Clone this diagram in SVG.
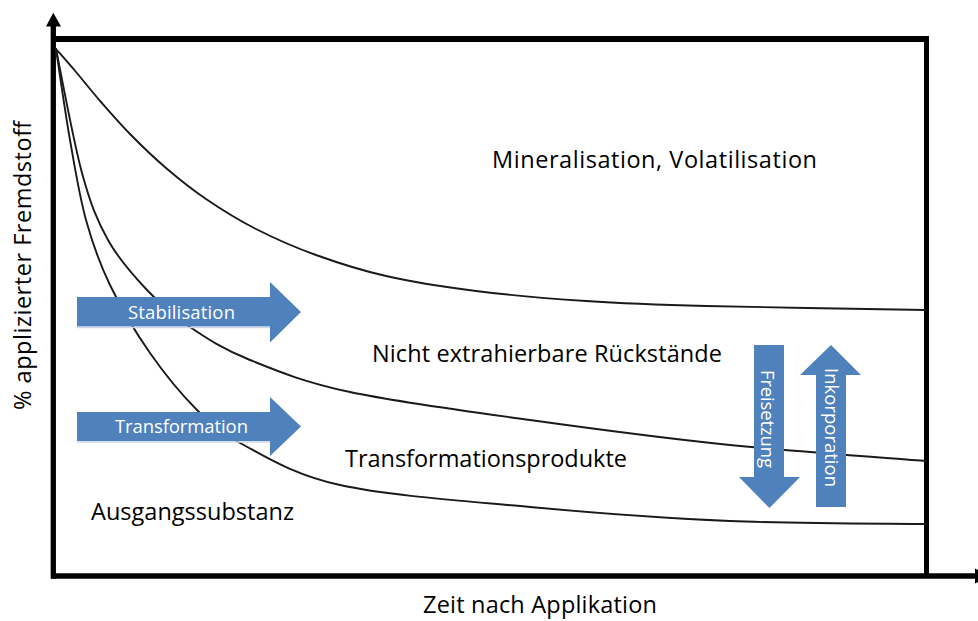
<svg xmlns="http://www.w3.org/2000/svg" width="978" height="621" viewBox="0 0 978 621">
  <style>
    .axis { stroke: #000; fill: none; }
    .curve { stroke: #1a1a1a; stroke-width: 1.9; fill: none; stroke-linecap: round; }
    .blue { fill: #4f81bd; }
    .shade { stroke: #cdd8ea; stroke-width: 1.5; }
    .lbl { font-family: "Open Sans", "Noto Sans", "Liberation Sans", sans-serif; fill: #000; font-size: 23.5px; }
    .arrowlbl { font-family: "Open Sans", "Noto Sans", "Liberation Sans", sans-serif; fill: #fff; font-size: 18.5px; }
  </style>
  <rect width="978" height="621" fill="#fff"/>

  <!-- frame and axes -->
  <g id="axes">
    <line class="axis" x1="53.3" y1="578.5" x2="53.3" y2="24" stroke-width="5.3"/>
    <polygon points="46,26.5 53.3,12.7 61,26.5" fill="#000"/>
    <line class="axis" x1="53" y1="39" x2="929" y2="39" stroke-width="6"/>
    <line class="axis" x1="926.5" y1="36" x2="926.5" y2="576" stroke-width="5"/>
    <line class="axis" x1="51" y1="576" x2="976" y2="576" stroke-width="5.5"/>
    <polygon points="975,568.5 990,576 975,583.5" fill="#000"/>
  </g>

  <!-- decay curves -->
  <g id="curves">
    <path class="curve" d="M56,49 C59.3,52.8 68.5,63.2 76,72 C83.5,80.8 91.8,91.5 101,102 C110.2,112.5 120.2,124 131,135 C141.8,146 153.5,157.3 166,168 C178.5,178.7 191,188.8 206,199 C221,209.2 237.7,219.7 256,229 C274.3,238.3 294.3,247.2 316,255 C337.7,262.8 359.3,270 386,276 C412.7,282 442.7,286.8 476,291 C509.3,295.2 547.7,298.5 586,301 C624.3,303.5 649.3,304.5 706,306 C762.7,307.5 889.3,309.3 926,310"/>
    <path class="curve" d="M56,49 C60.3,69.7 73.3,141.2 82,173 C90.7,204.8 97.2,220.5 108,240 C118.8,259.5 133.3,275.5 147,290 C160.7,304.5 172.8,315.3 190,327 C207.2,338.7 223.3,349.2 250,360 C276.7,370.8 303.3,382 350,392 C396.7,402 466.7,411.2 530,420 C593.3,428.8 664,438.2 730,445 C796,451.8 893.3,458.3 926,461"/>
    <path class="curve" d="M56,49 C58.3,64.2 65,111.5 70,140 C75,168.5 79.3,195.8 86,220 C92.7,244.2 99.3,262.8 110,285 C120.7,307.2 135.5,332.2 150,353 C164.5,373.8 182,395 197,410 C212,425 216.2,430.5 240,443 C263.8,455.5 291.7,474.3 340,485 C388.3,495.7 465,501 530,507 C595,513 664,518.2 730,521 C796,523.8 893.3,523.5 926,524"/>
  </g>

  <!-- process arrows -->
  <g id="stabilisation">
    <polygon class="blue" points="77,297 270,297 270,282 301,312 270,342.5 270,326.5 77,326.5"/>
    <line class="shade" x1="77" y1="327.5" x2="270" y2="327.5"/>
    <text class="arrowlbl" x="181.5" y="319" text-anchor="middle" textLength="107">Stabilisation</text>
  </g>
  <g id="transformation">
    <polygon class="blue" points="77,412 270,412 270,397 301,426.5 270,456 270,441 77,441"/>
    <line class="shade" x1="77" y1="442" x2="270" y2="442"/>
    <text class="arrowlbl" x="181.5" y="433" text-anchor="middle" textLength="133">Transformation</text>
  </g>
  <g id="freisetzung">
    <polygon class="blue" points="754,345 784,345 784,477 800,477 769.5,508 739,477 754,477"/>
    <text class="arrowlbl" transform="translate(761,370) rotate(90)" x="0" y="0" textLength="98">Freisetzung</text>
  </g>
  <g id="inkorporation">
    <polygon class="blue" points="831,345 861,375 846,375 846,507 816,507 816,375 800,375"/>
    <text class="arrowlbl" transform="translate(825,368) rotate(90)" x="0" y="0" textLength="119">Inkorporation</text>
  </g>

  <!-- compartment labels -->
  <g id="mineralisation">
    <text class="lbl" x="492" y="168" textLength="325">Mineralisation, Volatilisation</text>
  </g>
  <g id="rueckstaende">
    <text class="lbl" x="372" y="362" textLength="350">Nicht extrahierbare Rückstände</text>
  </g>
  <g id="produkte">
    <text class="lbl" x="345" y="467" textLength="282">Transformationsprodukte</text>
  </g>
  <g id="ausgangssubstanz">
    <text class="lbl" x="91" y="520" textLength="203">Ausgangssubstanz</text>
  </g>

  <!-- axis titles -->
  <g id="x-title">
    <text class="lbl" x="423" y="613" textLength="234">Zeit nach Applikation</text>
  </g>
  <g id="y-title">
    <text class="lbl" transform="translate(31,410) rotate(-90)" x="0" y="0" textLength="289">% applizierter Fremdstoff</text>
  </g>
</svg>
